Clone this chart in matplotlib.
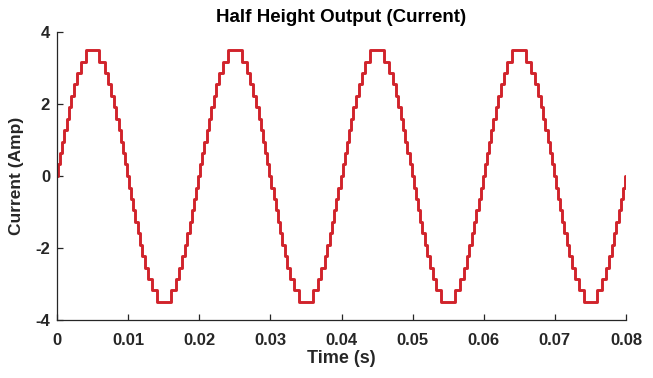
import numpy as np
import matplotlib
matplotlib.use('Agg')
import matplotlib.pyplot as plt

# stepped output: levels of the first quarter cycle and the times they switch on
levels = [0.0, 0.32, 0.64, 0.95, 1.27, 1.59, 1.91, 2.23, 2.55, 2.86, 3.18, 3.5]
switch_t = [0.0, 0.00014, 0.00044, 0.00073, 0.00103, 0.00134, 0.00167,
            0.00201, 0.00239, 0.00282, 0.00332, 0.00403]
period = 0.02
n_cycles = 4

xticks = [0, 0.01, 0.02, 0.03, 0.04, 0.05, 0.06, 0.07, 0.08]
xticklabels = ['0', '0.01', '0.02', '0.03', '0.04', '0.05', '0.06', '0.07', '0.08']
yticks = [-4, -2, 0, 2, 4]


# build one cycle from the quarter (mirror about the peak, then negate)
half = period / 2
t_h = list(switch_t) + [half - t for t in reversed(switch_t[1:])]
v_h = list(levels) + list(reversed(levels[:-1]))
t_c = t_h + [half + t for t in t_h]
v_c = v_h + [-v for v in v_h]

t = []
v = []
for c in range(n_cycles):
    t += [c * period + tt for tt in t_c]
    v += v_c
t.append(n_cycles * period)
v.append(0.0)

plt.rcParams.update({'font.family': 'Liberation Sans', 'font.weight': 'bold',
                     'axes.unicode_minus': False})

fig = plt.figure(figsize=(6.53, 3.78), dpi=100)
ax = fig.add_axes([0.0873, 0.1534, 0.8714, 0.7619])
ax.step(t, v, where='post', color='#d1232b', linewidth=2.1)

ax.set_xlim(0, 0.08)
ax.set_ylim(-4, 4)
ax.set_xticks(xticks)
ax.set_xticklabels(xticklabels)
ax.set_yticks(yticks)
ax.spines['top'].set_visible(False)
ax.spines['right'].set_visible(False)
for s in ['left', 'bottom']:
    ax.spines[s].set_color('#262626')
    ax.spines[s].set_linewidth(0.9)
ax.tick_params(direction='in', length=4, width=0.9, colors='#262626',
               labelsize=12, pad=5)
ax.tick_params(axis='x', pad=9)
for lab in ax.get_xticklabels() + ax.get_yticklabels():
    lab.set_fontweight('bold')

ax.set_title('Half Height Output (Current)', fontsize=13.5, fontweight='bold',
             color='black', pad=7)
ax.set_xlabel('Time (s)', fontsize=13, fontweight='bold', color='#262626', labelpad=2)
ax.set_ylabel('Current (Amp)', fontsize=12.5, fontweight='bold', color='#262626', labelpad=8)

plt.savefig('out.png', dpi=100)
plt.close()
